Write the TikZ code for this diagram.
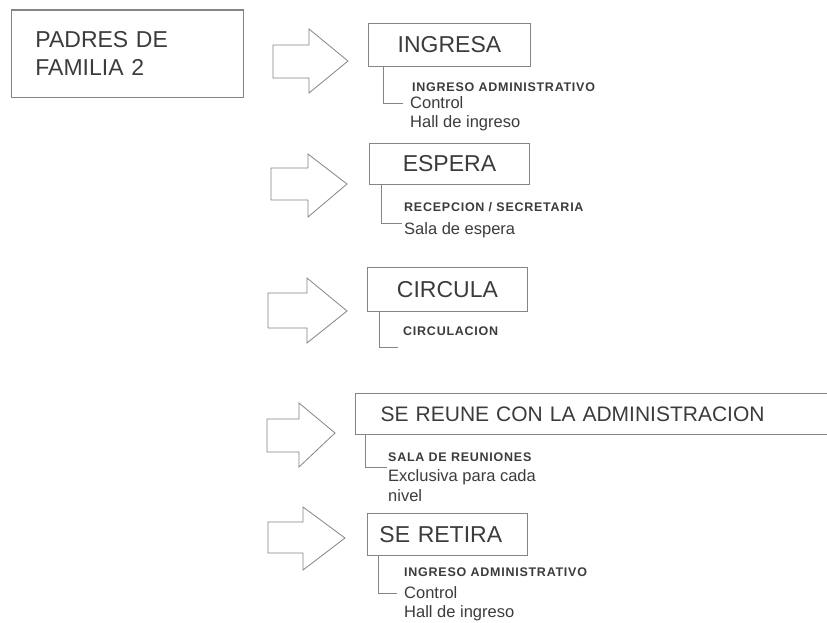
\documentclass[tikz,border=0pt]{standalone}
\usepackage{fontspec}
\setmainfont{Liberation Sans}
\newfontfamily\lsbold[LetterSpace=6]{Liberation Sans}
\definecolor{txt}{HTML}{3C3C3C}
\definecolor{lgray}{HTML}{858585}
\begin{document}
\begin{tikzpicture}[x=1pt,y=-1pt,
  ln/.style={draw=lgray, line width=0.9pt},
  bigtxt/.style={font=\fontsize{23}{28}\selectfont, text=txt},
  boxc/.style={ln, inner sep=0pt, anchor=north west, bigtxt},
  boxl/.style={ln, inner ysep=0pt, anchor=north west, bigtxt, align=left},
  hd/.style={anchor=west, inner sep=0pt, text=txt, font=\lsbold\bfseries\fontsize{12.5}{14}\selectfont},
  sm/.style={anchor=west, inner sep=0pt, text=txt, font=\fontsize{16.5}{19}\selectfont},
  arr/.style={draw=lgray, line width=0.8pt, line join=miter, fill=white}]
\useasboundingbox (0,0) rectangle (827,622);
\fill[white] (0,0) rectangle (827,622);

% main box
\node[boxl, inner xsep=24pt, text width=184pt, minimum height=87pt] (padres) at (11,10) {PADRES DE\\FAMILIA 2};
\draw[lgray, line width=1.8pt] (padres.north west) -- (padres.north east);

% arrows
\draw[arr] (273,45) -- (309,45) -- (309,29) -- (348,61) -- (309,93) -- (309,78) -- (273,78) -- cycle;
\draw[arr] (271,168) -- (308,168) -- (308,154) -- (347,184) -- (308,217) -- (308,200) -- (271,200) -- cycle;
\draw[arr] (268,293) -- (307,293) -- (307,278) -- (347,311) -- (307,343) -- (307,328) -- (268,328) -- cycle;
\draw[arr] (267,419) -- (299,419) -- (299,403) -- (335,433) -- (299,467) -- (299,452) -- (267,452) -- cycle;
\draw[arr] (268,522) -- (303,522) -- (303,507) -- (345,538) -- (303,570) -- (303,553) -- (268,553) -- cycle;

% step boxes
\node[boxc, minimum width=162pt, minimum height=43pt] (ingresa) at (368,23) {INGRESA};
\node[boxc, minimum width=160pt, minimum height=41pt] (espera) at (369,143) {ESPERA};
\node[boxc, minimum width=160pt, minimum height=44pt] (circula) at (367,267) {CIRCULA};
\node[boxl, line width=1.4pt, inner xsep=25pt, text width=500pt, minimum height=41pt, font=\fontsize{21}{25}\selectfont] (reune) at (355,393) {SE REUNE CON LA ADMINISTRACION};
\node[boxl, inner xsep=12pt, text width=136pt, minimum height=42pt] (retira) at (367,513) {SE RETIRA};

% details 1
\node[hd] (h1) at (412,87) {INGRESO ADMINISTRATIVO};
\node[sm] (c1) at (410,103) {Control};
\node[sm] (l1) at (410,123) {Hall de ingreso};
\path (ingresa.south west) ++(15,0) coordinate (s1);
\coordinate (e1) at (403,103);
\draw[ln] (s1) |- (e1);

% details 2
\node[hd] (h2) at (404,207) {RECEPCION / SECRETARIA};
\node[sm] (c2) at (404,230) {Sala de espera};
\path (espera.south west) ++(12,0) coordinate (s2);
\coordinate (e2) at (402,223);
\draw[ln] (s2) |- (e2);

% details 3
\node[hd] (h3) at (403,331) {CIRCULACION};
\path (circula.south west) ++(12,0) coordinate (s3);
\coordinate (e3) at (398,347);
\draw[ln] (s3) |- (e3);

% details 4
\node[hd] (h4) at (388,457) {SALA DE REUNIONES};
\node[sm] (c4) at (388,477) {Exclusiva para cada};
\node[sm] (l4) at (388,496) {nivel};
\path (reune.south west) ++(10,0) coordinate (s4);
\coordinate (e4) at (387,467);
\draw[ln] (s4) |- (e4);

% details 5
\node[hd] (h5) at (404,572) {INGRESO ADMINISTRATIVO};
\node[sm] (c5) at (404,593) {Control};
\node[sm] (l5) at (404,613) {Hall de ingreso};
\path (retira.south west) ++(11,0) coordinate (s5);
\coordinate (e5) at (397,593);
\draw[ln] (s5) |- (e5);
\end{tikzpicture}
\end{document}
